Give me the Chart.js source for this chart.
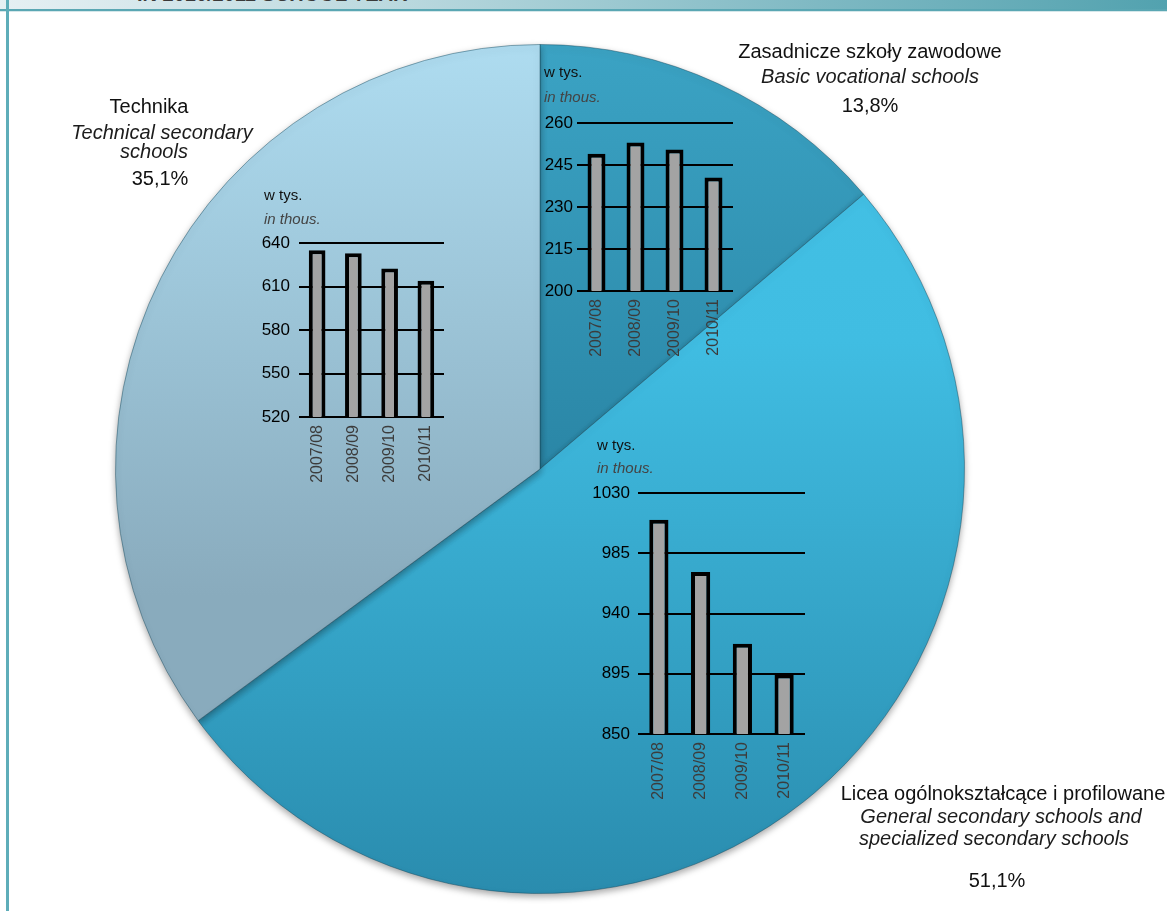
<!DOCTYPE html>
<html>
<head>
<meta charset="utf-8">
<script src="https://cdn.jsdelivr.net/npm/chart.js@4.4.0/dist/chart.umd.min.js"></script>
<style>
  body { margin: 0; width: 1167px; height: 911px; overflow: hidden; background: #fff; position: relative;
         font-family: 'Liberation Sans', Arial, sans-serif; }
  .abs { position: absolute; }
  .band { left: 0; top: 0; width: 1167px; height: 9px;
          background: linear-gradient(to right, #e6f0f3 0%, #b9d8de 35%, #7fb9c3 70%, #52a2af 100%); }
  .bandLine { left: 0; top: 9px; width: 1167px; height: 2px; background: #5aa7b3; }
  .bandLine2 { left: 0; top: 11px; width: 1167px; height: 1px; background: #d4e7ea; }
  .sideLine { left: 6px; top: 0; width: 3px; height: 911px; background: #5eadb9; }
  .head { left: 137px; top: -16px; font-size: 20px; font-weight: bold; color: #3a3a3a; line-height: 20px; white-space: nowrap; }
  .lbl { width: 400px; text-align: center; font-size: 20px; line-height: 20px; color: #111; white-space: nowrap; }
  .lbl.it { font-style: italic; color: #1c1c1c; }
  .unit { font-size: 15px; line-height: 15px; color: #111; white-space: nowrap; }
  .unit.it { font-style: italic; color: #444; }
</style>
</head>
<body>
<div class="abs band"></div>
<div class="abs head">IN 2010/2011 SCHOOL YEAR</div>
<div class="abs bandLine"></div>
<div class="abs bandLine2"></div>
<div class="abs sideLine"></div>

<canvas id="pie" class="abs" width="870" height="870" style="left:105px;top:34px"></canvas>
<canvas id="technical" class="abs" width="205" height="264" style="left:249px;top:223px"></canvas>
<canvas id="vocational" class="abs" width="216" height="258" style="left:527px;top:103px"></canvas>
<canvas id="general" class="abs" width="227" height="331" style="left:588px;top:473px"></canvas>

<!-- slice labels -->
<div class="abs lbl" style="left:-51px;top:96px">Technika</div>
<div class="abs lbl it" style="left:-38px;top:122px">Technical secondary</div>
<div class="abs lbl it" style="left:-46px;top:141px">schools</div>
<div class="abs lbl" style="left:-40px;top:168px">35,1%</div>

<div class="abs lbl" style="left:670px;top:41px">Zasadnicze szkoły zawodowe</div>
<div class="abs lbl it" style="left:670px;top:66px">Basic vocational schools</div>
<div class="abs lbl" style="left:670px;top:95px">13,8%</div>

<div class="abs lbl" style="left:803px;top:783px">Licea ogólnokształcące i profilowane</div>
<div class="abs lbl it" style="left:801px;top:806px">General secondary schools and</div>
<div class="abs lbl it" style="left:794px;top:828px">specialized secondary schools</div>
<div class="abs lbl" style="left:797px;top:870px">51,1%</div>

<!-- units of the small charts -->
<div class="abs unit" style="left:264px;top:187px">w tys.</div>
<div class="abs unit it" style="left:264px;top:211px">in thous.</div>
<div class="abs unit" style="left:544px;top:64px">w tys.</div>
<div class="abs unit it" style="left:544px;top:89px">in thous.</div>
<div class="abs unit" style="left:597px;top:437px">w tys.</div>
<div class="abs unit it" style="left:597px;top:460px">in thous.</div>

<script>
// pie: share of students by school type, clockwise from the top
const pieLabels = ['Zasadnicze szkoły zawodowe', 'Licea ogólnokształcące i profilowane', 'Technika'];
const pieShares = [13.8, 51.1, 35.1];

// small charts, thousands of students
const schoolYears = ['2007/08', '2008/09', '2009/10', '2010/11'];
const technicalValues = [635, 633, 622.5, 614];
const vocationalValues = [249, 253, 250.5, 240.5];
const generalValues = [1010, 971, 917.5, 894.5];

const technicalTicks = [520, 550, 580, 610, 640];
const vocationalTicks = [200, 215, 230, 245, 260];
const generalTicks = [850, 895, 940, 985, 1030];

Chart.defaults.font.family = "'Liberation Sans', Arial, sans-serif";

// vertical gradients for the slices (same order as pieLabels)
const sliceStops = [
  [[0, '#3ba3c4'], [0.5, '#2a86a6']],
  [[0, '#44c2e6'], [0.35, '#40bde2'], [1, '#2a8cae']],
  [[0, '#aedcf0'], [0.65, '#89abbd']]
];

function sliceFill(context) {
  const chart = context.chart;
  const area = chart.chartArea;
  if (!area) return '#3ab0d5';
  const g = chart.ctx.createLinearGradient(0, area.top, 0, area.bottom);
  sliceStops[context.dataIndex].forEach(s => g.addColorStop(s[0], s[1]));
  return g;
}

const pieShadow = {
  id: 'pieShadow',
  beforeDatasetsDraw(chart) {
    const c = chart.ctx;
    c.save();
    c.shadowColor = 'rgba(0,0,0,0.35)';
    c.shadowBlur = 7;
    c.shadowOffsetY = 3;
  },
  afterDatasetsDraw(chart) {
    chart.ctx.restore();
  }
};

new Chart(document.getElementById('pie'), {
  type: 'pie',
  data: {
    labels: pieLabels,
    datasets: [{
      data: pieShares,
      backgroundColor: sliceFill,
      borderColor: 'rgba(20,70,90,0.45)',
      borderWidth: 1
    }]
  },
  options: {
    responsive: false,
    animation: false,
    layout: { padding: 10 },
    plugins: { legend: { display: false }, tooltip: { enabled: false } }
  },
  plugins: [pieShadow]
});

function insetBars(id, values, ticks, labelGap) {
  new Chart(document.getElementById(id), {
    type: 'bar',
    data: {
      labels: schoolYears,
      datasets: [{
        data: values,
        backgroundColor: '#a3a3a3',
        borderColor: '#000',
        borderWidth: 4,
        borderSkipped: false,
        barPercentage: 0.46,
        categoryPercentage: 1
      }]
    },
    options: {
      responsive: false,
      animation: false,
      layout: { padding: { top: 20, right: 10, left: 0, bottom: 0 } },
      plugins: { legend: { display: false }, tooltip: { enabled: false } },
      scales: {
        x: {
          grid: { display: false },
          border: { display: false },
          ticks: { minRotation: 90, maxRotation: 90, padding: 0, color: '#3c3c3c', font: { size: 16 } },
          afterFit: s => { s.height = 70; }
        },
        y: {
          min: ticks[0],
          max: ticks[ticks.length - 1],
          grid: { color: '#000', lineWidth: 2, drawTicks: false },
          border: { display: false },
          ticks: { padding: labelGap, color: '#000', font: { size: 17 }, callback: v => String(v) },
          afterBuildTicks: s => { s.ticks = ticks.map(v => ({ value: v })); },
          afterFit: s => { s.width = 50; }
        }
      }
    }
  });
}

insetBars('technical', technicalValues, technicalTicks, 9);
insetBars('vocational', vocationalValues, vocationalTicks, 4);
insetBars('general', generalValues, generalTicks, 8);
</script>
</body>
</html>
